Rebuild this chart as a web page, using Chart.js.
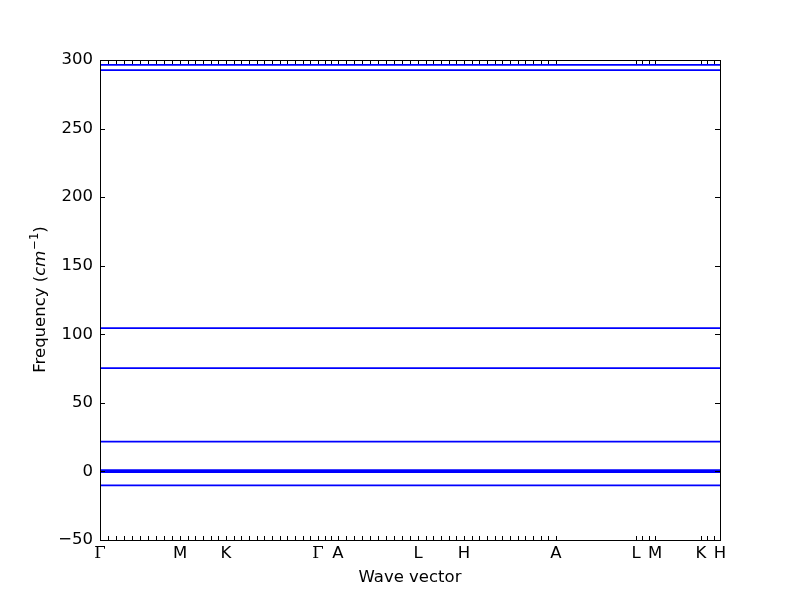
<!DOCTYPE html>
<html>
<head>
<meta charset="utf-8">
<script src="https://cdn.jsdelivr.net/npm/chart.js@4"></script>
<style>
  body { margin: 0; background: #fff; }
  #wrap { width: 800px; height: 600px; }
</style>
</head>
<body>
<div id="wrap"><canvas id="bandas" width="800" height="600"></canvas></div>
<script>
// puntos q a lo largo del camino (distancia arbitraria)
const qpoints = [
  0, 8, 16, 24, 32, 40, 48, 56, 64, 72, 80,
  87.7, 95.3, 103, 110.7, 118.3, 126,
  133.7, 141.3, 149, 156.7, 164.3, 172, 179.7, 187.3, 195, 202.7, 210.3, 218,
  224.7, 231.3, 238,
  246, 254, 262, 270, 278, 286, 294, 302, 310, 318,
  325.7, 333.3, 341, 348.7, 356.3, 364,
  371.7, 379.3, 387, 394.7, 402.3, 410, 417.7, 425.3, 433, 440.7, 448.3, 456,
  536, 542.3, 548.7, 555,
  601, 607.3, 613.7, 620
];
// puntos de alta simetria
const symPos    = [0, 80, 126, 218, 238, 318, 364, 456, 536, 555, 601, 620];
const symLabels = ['Γ', 'M', 'K', 'Γ', 'A', 'L', 'H', 'A', 'L', 'M', 'K', 'H'];
// frecuencias de las bandas (cm^-1), planas
const bandFreqs = [296.5, 292.6, 104.5, 75.3, 21.7, 1.0, -0.4, -10.2];
const pathStart = 0, pathEnd = 620;

const FONT = 'DejaVu Sans';

const marcoTicks = {
  id: 'marcoTicks',
  afterDraw(chart) {
    const { ctx, chartArea: a, scales: { x, y } } = chart;
    ctx.save();
    ctx.strokeStyle = '#000';
    ctx.lineWidth = 1;
    ctx.beginPath();
    // ticks x (dentro, abajo y arriba)
    qpoints.forEach(q => {
      const px = Math.round(x.getPixelForValue(q)) + 0.5;
      ctx.moveTo(px, a.bottom); ctx.lineTo(px, a.bottom - 4);
      ctx.moveTo(px, a.top); ctx.lineTo(px, a.top + 4);
    });
    // ticks y (dentro, izquierda y derecha)
    y.ticks.forEach(t => {
      const py = Math.round(y.getPixelForValue(t.value)) + 0.5;
      ctx.moveTo(a.left, py); ctx.lineTo(a.left + 5, py);
      ctx.moveTo(a.right, py); ctx.lineTo(a.right - 5, py);
    });
    ctx.stroke();
    ctx.strokeRect(Math.round(a.left) + 0.5, Math.round(a.top) + 0.5,
                   Math.round(a.right - a.left), Math.round(a.bottom - a.top));

    // titulo eje x
    ctx.fillStyle = '#000';
    ctx.font = `16.5px "${FONT}"`;
    ctx.textAlign = 'center';
    ctx.textBaseline = 'middle';
    ctx.fillText('Wave vector', (a.left + a.right) / 2, 578);

    // titulo eje y con cm^-1
    const partes = [
      { t: 'Frequency (', f: `16.5px "${FONT}"`, dy: 0 },
      { t: 'cm', f: `italic 16.5px "${FONT}"`, dy: 0 },
      { t: '−1', f: `11.5px "${FONT}"`, dy: -7 },
      { t: ')', f: `16.5px "${FONT}"`, dy: 0 }
    ];
    let total = 0;
    partes.forEach(p => { ctx.font = p.f; p.w = ctx.measureText(p.t).width; total += p.w; });
    ctx.translate(39, (a.top + a.bottom) / 2);
    ctx.rotate(-Math.PI / 2);
    ctx.textAlign = 'left';
    ctx.textBaseline = 'alphabetic';
    let cx = -total / 2;
    partes.forEach(p => {
      ctx.font = p.f;
      ctx.fillText(p.t, cx, 6 + p.dy);
      cx += p.w + (p.t === 'cm' ? 1 : 0);
    });
    ctx.restore();
  }
};

new Chart(document.getElementById('bandas').getContext('2d'), {
  type: 'line',
  data: {
    datasets: bandFreqs.map(f => ({
      data: [{ x: pathStart, y: f }, { x: pathEnd, y: f }],
      borderColor: '#0000ff',
      borderWidth: 1.8,
      pointRadius: 0,
      fill: false
    }))
  },
  options: {
    responsive: false,
    animation: false,
    layout: { padding: { top: 60, right: 80, left: 0, bottom: 0 } },
    plugins: { legend: { display: false }, tooltip: { enabled: false } },
    scales: {
      x: {
        type: 'linear',
        min: pathStart, max: pathEnd,
        grid: { display: false, drawTicks: false },
        border: { display: false },
        afterBuildTicks: s => { s.ticks = qpoints.map(v => ({ value: v })); },
        afterFit: s => { s.height = 60; },
        ticks: {
          autoSkip: false, maxRotation: 0, padding: 4,
          color: '#000',
          // la Γ sale en serif, como en mathtext
          font: c => {
            const i = c.tick ? symPos.indexOf(c.tick.value) : -1;
            const serif = i >= 0 && symLabels[i] === 'Γ';
            return { family: serif ? 'DejaVu Serif' : FONT, size: 16.5 };
          },
          callback: v => {
            const i = symPos.indexOf(v);
            return i >= 0 ? symLabels[i] : '';
          }
        }
      },
      y: {
        min: -50, max: 300,
        grid: { display: false, drawTicks: false },
        border: { display: false },
        afterFit: s => { s.width = 100; },
        ticks: {
          stepSize: 50, padding: 7,
          color: '#000', font: { family: FONT, size: 16.5 },
          callback: v => v < 0 ? '−' + Math.abs(v) : String(v)
        }
      }
    }
  },
  plugins: [marcoTicks]
});
</script>
</body>
</html>
